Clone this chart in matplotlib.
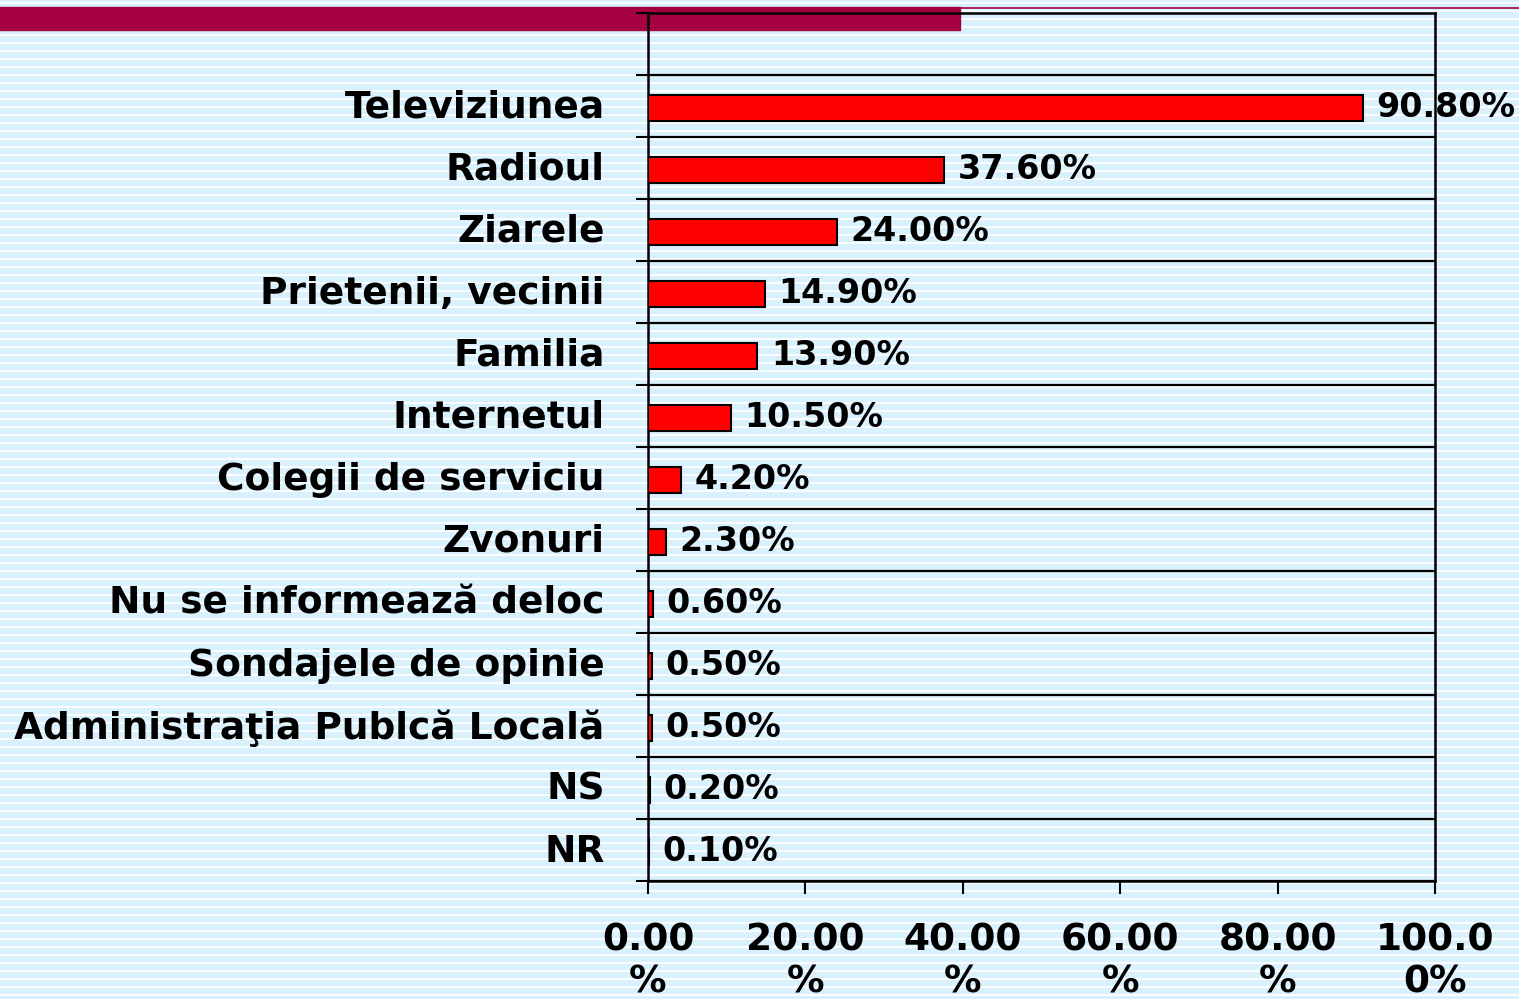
import numpy as np
import matplotlib.pyplot as plt
from matplotlib.lines import Line2D
from matplotlib.patches import Rectangle
from matplotlib.ticker import FixedLocator

categories = ['Televiziunea', 'Radioul', 'Ziarele', 'Prietenii, vecinii', 'Familia',
              'Internetul', 'Colegii de serviciu', 'Zvonuri', 'Nu se informează deloc',
              'Sondajele de opinie', 'Administraţia Publcă Locală', 'NS', 'NR']
values = [90.8, 37.6, 24.0, 14.9, 13.9, 10.5, 4.2, 2.3, 0.6, 0.5, 0.5, 0.2, 0.1]
xticks = [0, 20, 40, 60, 80, 100]
xtick_labels = ['0.00\n%', '20.00\n%', '40.00\n%', '60.00\n%', '80.00\n%', '100.0\n0%']

W, H = 1519, 999
fig = plt.figure(figsize=(W / 100, H / 100), dpi=100)
fig.patch.set_facecolor('#d9f1fc')

# striped background
for y in np.arange(3, H, 8):
    fig.add_artist(Line2D([0, 1], [1 - y / H, 1 - y / H], transform=fig.transFigure,
                          color='white', lw=1.3, zorder=0))
# crimson header bar
fig.add_artist(Rectangle((0, 1 - 30 / H), 960 / W, 23 / H, transform=fig.transFigure,
                         color='#a50040', zorder=1))
fig.add_artist(Line2D([0, 1], [1 - 7.5 / H, 1 - 7.5 / H], transform=fig.transFigure,
                      color='#a50040', lw=1.2, zorder=1))

ax = fig.add_axes([648 / W, 1 - 881 / H, (1435 - 648) / W, (881 - 13) / H])
ax.set_facecolor('none')
ax.set_zorder(2)

n = len(categories)
ypos = np.arange(n)
ax.barh(ypos + 0.03, values, height=0.42, color='red', edgecolor='black', linewidth=1.5, zorder=3)
ax.set_xlim(0, 100)
ax.set_ylim(n - 0.5, -1.5)

for y, v in zip(ypos, values):
    ax.text(v + 1.7, y + 0.03, '%.2f%%' % v, va='center', ha='left', fontsize=24,
            fontweight='bold', zorder=4)

# boundaries between categories
bounds = np.arange(-1.5, n, 1.0)
for b in bounds:
    ax.axhline(b, color='black', lw=1.6, zorder=2)
ax.yaxis.set_major_locator(FixedLocator(bounds))
ax.set_yticklabels([])
ax.tick_params(axis='y', length=9, width=1.5, direction='out')
for y, c in zip(ypos, categories):
    ax.text(-0.055, y + 0.03, c, transform=ax.get_yaxis_transform(), ha='right', va='center',
            fontsize=27, fontweight='bold')

ax.set_xticks(xticks)
ax.set_xticklabels(xtick_labels, fontsize=27, fontweight='bold', linespacing=1.2)
ax.tick_params(axis='x', length=9, width=1.5, direction='out', pad=21)
for s in ax.spines.values():
    s.set_linewidth(1.8)
    s.set_color('black')

fig.savefig('out.png', dpi=100, facecolor=fig.get_facecolor())
